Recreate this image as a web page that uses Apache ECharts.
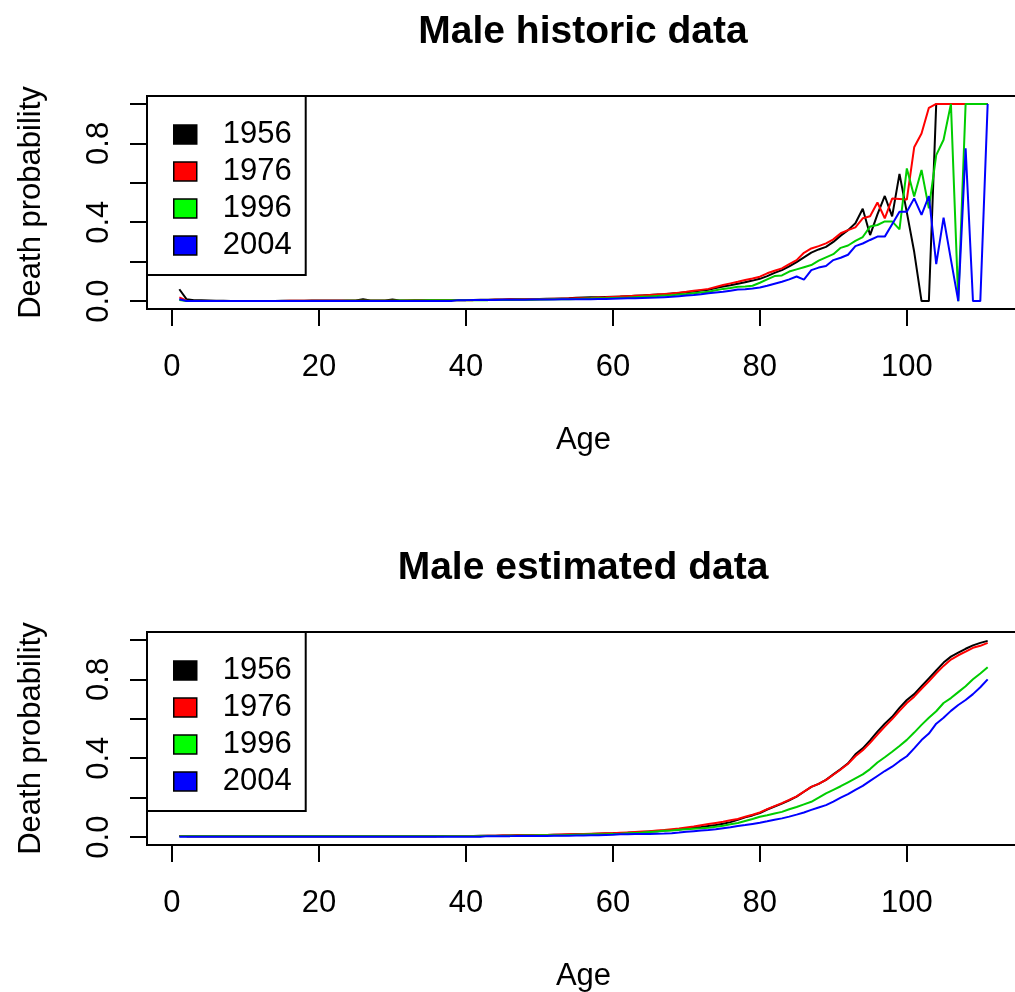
<!DOCTYPE html>
<html>
<head>
<meta charset="utf-8">
<script src="https://cdn.jsdelivr.net/npm/echarts@6/dist/echarts.min.js"></script>
<style>
  html, body { margin: 0; padding: 0; background: #fff; }
  #chart { width: 1015px; height: 992px; }
</style>
</head>
<body>
<div id="chart"></div>
<script>
// ages 1..111
const ages = Array.from({ length: 111 }, (_, i) => i + 1);
const years = ["1956", "1976", "1996", "2004"];
const xTicks = [0, 20, 40, 60, 80, 100];
const yTicks = [0, 0.2, 0.4, 0.6, 0.8, 1.0];
const yLabels = [0, 0.4, 0.8];

// historic death probabilities
const hist1956 = [
  0.060, 0.009, 0.005, 0.004, 0.003, 0.002, 0.002, 0.001, 0.001, 0.001,
  0.001, 0.001, 0.001, 0.001, 0.002, 0.002, 0.002, 0.002, 0.003, 0.003,
  0.003, 0.003, 0.003, 0.003, 0.003, 0.009, 0.003, 0.003, 0.003, 0.008,
  0.003, 0.003, 0.004, 0.004, 0.004, 0.005, 0.005, 0.005, 0.006, 0.006,
  0.006, 0.007, 0.007, 0.008, 0.008, 0.009, 0.009, 0.010, 0.010, 0.011,
  0.012, 0.012, 0.013, 0.014, 0.017, 0.018, 0.019, 0.020, 0.021, 0.022,
  0.023, 0.025, 0.027, 0.029, 0.031, 0.033, 0.035, 0.038, 0.041, 0.045,
  0.049, 0.054, 0.058, 0.066, 0.074, 0.080, 0.088, 0.096, 0.104, 0.113,
  0.127, 0.143, 0.157, 0.176, 0.198, 0.222, 0.246, 0.262, 0.275, 0.300,
  0.332, 0.360, 0.395, 0.468, 0.335, 0.440, 0.533, 0.430, 0.645, 0.450,
  0.250, 0.000, 0.000, 1, 1, 1, 1, 1, 1, 1, 1,
];
const hist1976 = [
  0.019, 0.002, 0.001, 0.001, 0.001, 0.001, 0.001, 0.001, 0.001, 0.001,
  0.001, 0.001, 0.001, 0.001, 0.001, 0.002, 0.002, 0.002, 0.002, 0.002,
  0.002, 0.002, 0.002, 0.002, 0.002, 0.002, 0.002, 0.002, 0.002, 0.002,
  0.002, 0.003, 0.003, 0.003, 0.003, 0.004, 0.004, 0.004, 0.005, 0.005,
  0.005, 0.006, 0.006, 0.007, 0.007, 0.008, 0.008, 0.009, 0.010, 0.010,
  0.011, 0.012, 0.012, 0.013, 0.014, 0.015, 0.016, 0.018, 0.019, 0.021,
  0.023, 0.025, 0.027, 0.029, 0.031, 0.033, 0.036, 0.039, 0.043, 0.047,
  0.052, 0.057, 0.062, 0.072, 0.082, 0.090, 0.098, 0.107, 0.115, 0.124,
  0.141, 0.154, 0.166, 0.188, 0.208, 0.245, 0.267, 0.279, 0.293, 0.313,
  0.344, 0.360, 0.374, 0.420, 0.430, 0.500, 0.420, 0.520, 0.518, 0.515,
  0.780, 0.850, 0.980, 1, 1, 1, 1, 1, 1, 1, 1,
];
const hist1996 = [
  0.006, 0.001, 0.001, 0.000, 0.000, 0.000, 0.000, 0.000, 0.000, 0.000,
  0.000, 0.000, 0.000, 0.001, 0.001, 0.001, 0.001, 0.001, 0.001, 0.001,
  0.001, 0.001, 0.001, 0.002, 0.002, 0.002, 0.002, 0.002, 0.002, 0.002,
  0.003, 0.003, 0.003, 0.003, 0.004, 0.004, 0.004, 0.004, 0.005, 0.005,
  0.005, 0.005, 0.005, 0.006, 0.006, 0.006, 0.007, 0.007, 0.007, 0.008,
  0.008, 0.009, 0.009, 0.010, 0.011, 0.012, 0.013, 0.014, 0.015, 0.016,
  0.017, 0.018, 0.020, 0.022, 0.024, 0.026, 0.028, 0.030, 0.033, 0.036,
  0.040, 0.044, 0.048, 0.055, 0.062, 0.066, 0.073, 0.074, 0.078, 0.093,
  0.110, 0.127, 0.130, 0.150, 0.161, 0.172, 0.183, 0.205, 0.222, 0.238,
  0.270, 0.282, 0.305, 0.325, 0.378, 0.386, 0.404, 0.404, 0.364, 0.673,
  0.530, 0.665, 0.470, 0.740, 0.818, 1, 0, 1, 1, 1, 1,
];
const hist2004 = [
  0.009, 0.001, 0.000, 0.000, 0.000, 0.000, 0.000, 0.000, 0.000, 0.000,
  0.000, 0.000, 0.000, 0.000, 0.001, 0.001, 0.001, 0.001, 0.001, 0.001,
  0.001, 0.001, 0.001, 0.001, 0.001, 0.001, 0.001, 0.001, 0.001, 0.001,
  0.001, 0.001, 0.001, 0.001, 0.001, 0.001, 0.001, 0.001, 0.005, 0.005,
  0.006, 0.006, 0.006, 0.006, 0.007, 0.007, 0.007, 0.007, 0.008, 0.008,
  0.008, 0.008, 0.009, 0.009, 0.009, 0.010, 0.010, 0.011, 0.011, 0.012,
  0.013, 0.014, 0.015, 0.016, 0.017, 0.018, 0.020, 0.022, 0.025, 0.028,
  0.031, 0.035, 0.040, 0.044, 0.047, 0.053, 0.059, 0.060, 0.064, 0.069,
  0.078, 0.088, 0.098, 0.110, 0.125, 0.109, 0.157, 0.170, 0.178, 0.208,
  0.220, 0.235, 0.279, 0.292, 0.310, 0.327, 0.327, 0.390, 0.453, 0.453,
  0.521, 0.437, 0.533, 0.188, 0.423, 0.210, 0.000, 0.775, 0.000, 0.000, 1,
];

// estimated death probabilities
const est1956 = [
  0.006, 0.005, 0.005, 0.005, 0.005, 0.005, 0.005, 0.005, 0.005, 0.005,
  0.005, 0.005, 0.005, 0.005, 0.005, 0.005, 0.005, 0.005, 0.005, 0.005,
  0.005, 0.005, 0.005, 0.005, 0.005, 0.005, 0.005, 0.005, 0.005, 0.005,
  0.005, 0.005, 0.005, 0.005, 0.005, 0.005, 0.006, 0.006, 0.006, 0.006,
  0.006, 0.007, 0.007, 0.007, 0.008, 0.008, 0.009, 0.009, 0.010, 0.010,
  0.011, 0.012, 0.012, 0.013, 0.014, 0.015, 0.016, 0.017, 0.018, 0.019,
  0.021, 0.022, 0.024, 0.026, 0.028, 0.030, 0.033, 0.036, 0.039, 0.043,
  0.047, 0.051, 0.056, 0.061, 0.068, 0.076, 0.088, 0.100, 0.110, 0.122,
  0.140, 0.155, 0.170, 0.187, 0.205, 0.230, 0.255, 0.270, 0.290, 0.318,
  0.345, 0.374, 0.420, 0.450, 0.490, 0.535, 0.575, 0.610, 0.655, 0.695,
  0.725, 0.765, 0.805, 0.845, 0.885, 0.915, 0.935, 0.955, 0.972, 0.985, 0.995,
];
const est1976 = [
  0.006, 0.005, 0.005, 0.005, 0.005, 0.005, 0.005, 0.005, 0.005, 0.005,
  0.005, 0.005, 0.005, 0.005, 0.005, 0.005, 0.005, 0.005, 0.005, 0.005,
  0.005, 0.005, 0.005, 0.005, 0.005, 0.005, 0.005, 0.005, 0.005, 0.005,
  0.005, 0.005, 0.005, 0.005, 0.005, 0.005, 0.005, 0.006, 0.006, 0.006,
  0.006, 0.006, 0.007, 0.007, 0.008, 0.008, 0.009, 0.009, 0.010, 0.011,
  0.011, 0.012, 0.013, 0.014, 0.015, 0.016, 0.017, 0.018, 0.019, 0.020,
  0.022, 0.024, 0.026, 0.028, 0.030, 0.033, 0.036, 0.040, 0.044, 0.049,
  0.054, 0.060, 0.066, 0.072, 0.078, 0.085, 0.092, 0.103, 0.113, 0.125,
  0.142, 0.157, 0.172, 0.189, 0.207, 0.231, 0.255, 0.270, 0.290, 0.316,
  0.343, 0.372, 0.410, 0.440, 0.478, 0.520, 0.560, 0.598, 0.640, 0.680,
  0.712, 0.752, 0.790, 0.830, 0.868, 0.900, 0.922, 0.940, 0.960, 0.970, 0.985,
];
const est1996 = [
  0.005, 0.005, 0.005, 0.005, 0.005, 0.005, 0.005, 0.005, 0.005, 0.005,
  0.005, 0.005, 0.005, 0.005, 0.005, 0.005, 0.005, 0.005, 0.005, 0.005,
  0.005, 0.005, 0.005, 0.005, 0.005, 0.005, 0.005, 0.005, 0.005, 0.005,
  0.005, 0.005, 0.005, 0.005, 0.005, 0.005, 0.005, 0.005, 0.005, 0.005,
  0.005, 0.005, 0.006, 0.006, 0.006, 0.007, 0.007, 0.008, 0.008, 0.009,
  0.009, 0.010, 0.010, 0.011, 0.012, 0.013, 0.014, 0.014, 0.015, 0.016,
  0.017, 0.019, 0.021, 0.023, 0.026, 0.029, 0.032, 0.034, 0.037, 0.040,
  0.043, 0.045, 0.048, 0.053, 0.058, 0.065, 0.072, 0.082, 0.092, 0.103,
  0.111, 0.120, 0.128, 0.141, 0.153, 0.166, 0.179, 0.200, 0.222, 0.240,
  0.258, 0.278, 0.298, 0.318, 0.345, 0.378, 0.405, 0.433, 0.462, 0.493,
  0.530, 0.569, 0.605, 0.638, 0.680, 0.705, 0.735, 0.765, 0.800, 0.830, 0.861,
];
const est2004 = [
  0.002, 0.002, 0.002, 0.002, 0.002, 0.002, 0.002, 0.002, 0.002, 0.002,
  0.002, 0.002, 0.002, 0.002, 0.002, 0.002, 0.002, 0.002, 0.002, 0.002,
  0.002, 0.002, 0.002, 0.002, 0.002, 0.002, 0.002, 0.002, 0.002, 0.002,
  0.002, 0.002, 0.002, 0.002, 0.002, 0.002, 0.002, 0.002, 0.002, 0.002,
  0.002, 0.002, 0.005, 0.005, 0.005, 0.005, 0.006, 0.006, 0.006, 0.006,
  0.006, 0.007, 0.007, 0.007, 0.008, 0.008, 0.009, 0.010, 0.011, 0.012,
  0.015, 0.015, 0.016, 0.016, 0.016, 0.017, 0.018, 0.020, 0.023, 0.027,
  0.030, 0.033, 0.036, 0.040, 0.045, 0.050, 0.056, 0.061, 0.067, 0.073,
  0.080, 0.088, 0.095, 0.104, 0.114, 0.125, 0.138, 0.150, 0.162, 0.180,
  0.200, 0.218, 0.240, 0.260, 0.285, 0.310, 0.335, 0.357, 0.385, 0.410,
  0.450, 0.492, 0.525, 0.575, 0.605, 0.640, 0.670, 0.695, 0.725, 0.760, 0.800,
];

const lineColors = ["#000000", "#ff0000", "#00cd00", "#0000ff"];
const legendColors = ["#000000", "#ff0000", "#00ff00", "#0000ff"];
const FONT = "Liberation Sans, Arial, Helvetica, sans-serif";

const panels = [
  { title: "Male historic data", top: 96, titleTop: 13, data: [hist1956, hist1976, hist1996, hist2004] },
  { title: "Male estimated data", top: 632, titleTop: 549, data: [est1956, est1976, est1996, est2004] },
];

const chart = echarts.init(document.getElementById("chart"), null, { renderer: "canvas" });

const option = {
  animation: false,
  backgroundColor: "#fff",
  title: panels.map((p) => ({
    text: p.title,
    left: 583,
    top: p.titleTop,
    textAlign: "center",
    padding: 0,
    textStyle: { fontSize: 39, fontWeight: "bold", color: "#000", fontFamily: FONT },
  })),
  grid: panels.map((p) => ({
    left: 147,
    top: p.top,
    width: 873,
    height: 213,
    show: true,
    borderColor: "#000",
    borderWidth: 2,
    backgroundColor: "transparent",
    outerBoundsMode: "none",
  })),
  legend: panels.map((p) => ({
    orient: "vertical",
    left: 147,
    top: p.top,
    padding: [23, 14, 14, 26],
    itemWidth: 23,
    itemHeight: 19,
    itemGap: 6,
    icon: "rect",
    selectedMode: false,
    borderColor: "#000",
    borderWidth: 2,
    borderRadius: 0,
    backgroundColor: "#fff",
    itemStyle: { borderColor: "#000", borderWidth: 1.5 },
    textStyle: { fontSize: 31, color: "#000", fontFamily: FONT, padding: [0, 0, 0, 21] },
    data: years.map((y, i) => ({ name: y, itemStyle: { color: legendColors[i] } })),
  })),
  xAxis: panels.map((p, i) => ({
    type: "value",
    gridIndex: i,
    min: -3.4,
    max: 115.4,
    name: "Age",
    nameLocation: "middle",
    nameGap: 116,
    nameMoveOverlap: false,
    nameTextStyle: { fontSize: 31, color: "#000", fontFamily: FONT },
    axisLine: { show: false, onZero: false },
    splitLine: { show: false },
    axisTick: { show: true, length: 17, lineStyle: { color: "#000", width: 2 }, customValues: xTicks },
    axisLabel: { customValues: xTicks, fontSize: 31, color: "#000", fontFamily: FONT, margin: 43 },
  })),
  yAxis: panels.map((p, i) => ({
    type: "value",
    gridIndex: i,
    min: -0.04,
    max: 1.04,
    name: "Death probability",
    nameLocation: "middle",
    nameGap: 100,
    nameMoveOverlap: false,
    nameTextStyle: { fontSize: 31, color: "#000", fontFamily: FONT },
    axisLine: { show: false, onZero: false },
    splitLine: { show: false },
    axisTick: { show: true, length: 17, lineStyle: { color: "#000", width: 2 }, customValues: yTicks },
    axisLabel: {
      customValues: yLabels,
      rotate: 90,
      formatter: (v) => v.toFixed(1),
      fontSize: 31,
      color: "#000",
      fontFamily: FONT,
      margin: 32,
    },
  })),
  series: panels.flatMap((p, i) =>
    years.map((y, k) => ({
      name: y,
      type: "line",
      xAxisIndex: i,
      yAxisIndex: i,
      showSymbol: false,
      symbol: "none",
      lineStyle: { color: lineColors[k], width: 2 },
      itemStyle: { color: lineColors[k] },
      data: ages.map((a, j) => [a, p.data[k][j]]),
    }))
  ),
};

chart.setOption(option);
</script>
</body>
</html>
